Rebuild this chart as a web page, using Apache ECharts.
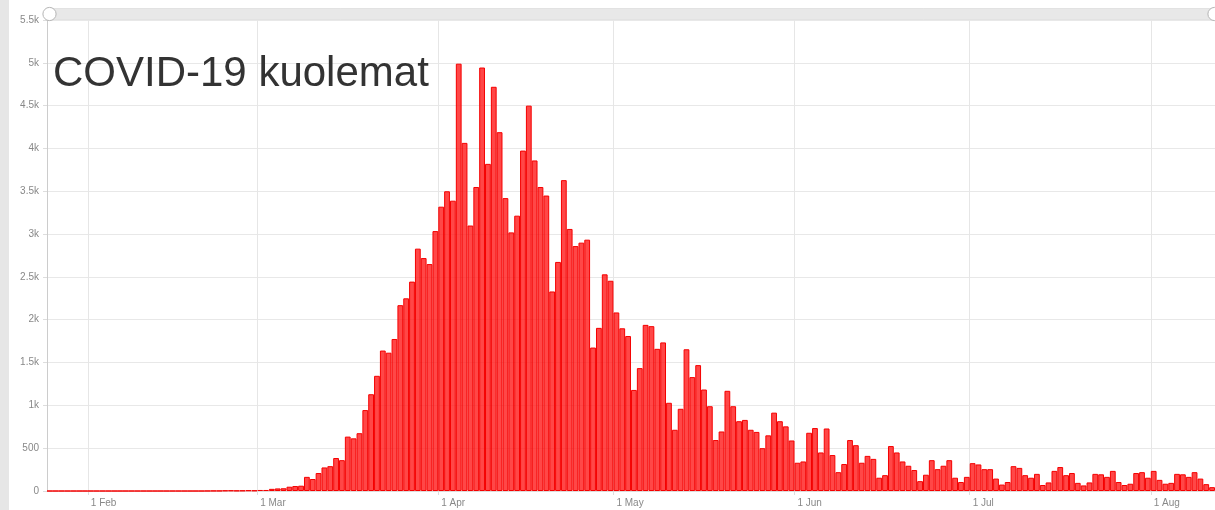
<!DOCTYPE html>
<html>
<head>
<meta charset="utf-8">
<script src="https://cdn.jsdelivr.net/npm/echarts@6/dist/echarts.min.js"></script>
<style>
html,body{margin:0;padding:0;background:#fff;}
#c{width:1215px;height:510px;position:absolute;left:0;top:0;}
#strip{position:absolute;left:0;top:0;width:9px;height:510px;background:#e6e6e6;}
</style>
</head>
<body>
<div id="c"></div>
<div id="strip"></div>
<script>
// ---- data ----
const titleText = 'COVID-19 kuolemat';
const startDate = '2020-01-25';
const monthNames = ['Jan','Feb','Mar','Apr','May','Jun','Jul','Aug','Sep','Oct','Nov','Dec'];
const yTicks = [0,500,1000,1500,2000,2500,3000,3500,4000,4500,5000,5500];
const deathsJan = [0,0,0,0,0,0,0];
const deathsFeb = [0,0,0,0,0,0,0,0,0,0,0,0,0,0,0,0,0,0,0,0,1,2,2,5,6,4,5,8,6];
const deathsMar = [12,12,25,30,32,50,58,62,165,140,210,275,290,385,360,635,615,675,945,1130,1345,1640,1615,1775,2170,2250,2445,2830,2720,2650,3035];
const deathsApr = [3320,3500,3390,4990,4065,3100,3550,4945,3820,4720,4190,3420,3020,3215,3975,4500,3860,3550,3450,2330,2675,3630,3060,2860,2900,2935,1675,1905,2530,2455];
const deathsMay = [2085,1900,1810,1180,1435,1940,1925,1660,1735,1030,715,960,1655,1330,1470,1185,990,595,695,1170,990,815,830,715,690,500,650,915,815,755,590];
const deathsJun = [330,345,680,735,450,730,420,220,315,595,535,330,410,375,155,185,525,450,345,295,245,115,190,360,255,295,360,155,105,165];
const deathsJul = [325,310,255,255,145,75,105,290,270,185,155,200,70,100,235,280,185,210,95,65,100,200,195,165,235,105,70,85,210,220,155];
const deathsAug = [235,130,85,95,200,195,165,220,145,80,45];

// ---- build ----
const values = [].concat(deathsJan, deathsFeb, deathsMar, deathsApr, deathsMay, deathsJun, deathsJul, deathsAug);
const categories = [];
(function(){
  const d0 = new Date(startDate + 'T00:00:00Z');
  for (let i = 0; i < values.length; i++) {
    const d = new Date(d0.getTime() + i * 86400000);
    categories.push(d.toISOString().slice(0,10));
  }
})();
const isMonthStart = (idx, val) => String(categories[idx]).slice(8,10) === '01';
const fmtDate = (v) => {
  const m = parseInt(v.slice(5,7),10) - 1;
  const d = parseInt(v.slice(8,10),10);
  return d + ' ' + monthNames[m];
};
const fmtY = (v) => v >= 1000 ? (v/1000) + 'k' : String(v);

const FONT = '"Liberation Sans", Arial, Helvetica, sans-serif';
const chart = echarts.init(document.getElementById('c'), null, {renderer:'canvas'});
chart.setOption({
  backgroundColor: '#ffffff',
  animation: false,
  title: {
    text: titleText,
    left: 48, top: 48,
    textStyle: {fontSize: 42, fontWeight: 'normal', color: '#333333', fontFamily: FONT}
  },
  grid: {left: 47, top: 20, width: 1169, height: 471, containLabel: false},
  dataZoom: [{
    type: 'slider',
    xAxisIndex: 0,
    start: 0, end: 100,
    left: 47, width: 1167, top: 8, height: 12,
    backgroundColor: '#e8e8e8',
    borderColor: '#e2e2e2',
    fillerColor: 'rgba(0,0,0,0)',
    showDataShadow: false,
    showDetail: false,
    brushSelect: false,
    moveHandleSize: 0,
    handleIcon: 'circle',
    handleSize: '110%',
    handleStyle: {color: '#ffffff', borderColor: '#b5b5b5', borderWidth: 1},
    filterMode: 'none'
  }],
  xAxis: {
    type: 'category',
    data: categories,
    boundaryGap: true,
    axisLine: {show: true, lineStyle: {color: '#dddddd'}},
    axisTick: {show: true, interval: isMonthStart, length: 4, lineStyle: {color: '#dddddd'}},
    axisLabel: {
      interval: isMonthStart,
      formatter: fmtDate,
      align: 'left',
      margin: 7,
      color: '#888888',
      fontSize: 10,
      fontFamily: FONT
    },
    splitLine: {show: true, interval: isMonthStart, lineStyle: {color: '#e6e6e6', width: 1}}
  },
  yAxis: {
    type: 'value',
    min: yTicks[0], max: yTicks[yTicks.length-1], interval: yTicks[1]-yTicks[0],
    axisLine: {show: true, lineStyle: {color: '#cccccc'}},
    axisTick: {show: true, length: 4, lineStyle: {color: '#dddddd'}},
    axisLabel: {formatter: fmtY, color: '#888888', fontSize: 10, margin: 8, fontFamily: FONT},
    splitLine: {show: true, lineStyle: {color: '#e8e8e8', width: 1}}
  },
  series: [{
    type: 'bar',
    data: values,
    barCategoryGap: '1%',
    itemStyle: {color: 'rgba(255,30,30,0.82)', borderColor: '#f50000', borderWidth: 1},
    emphasis: {disabled: true}
  }]
});
</script>
</body>
</html>
